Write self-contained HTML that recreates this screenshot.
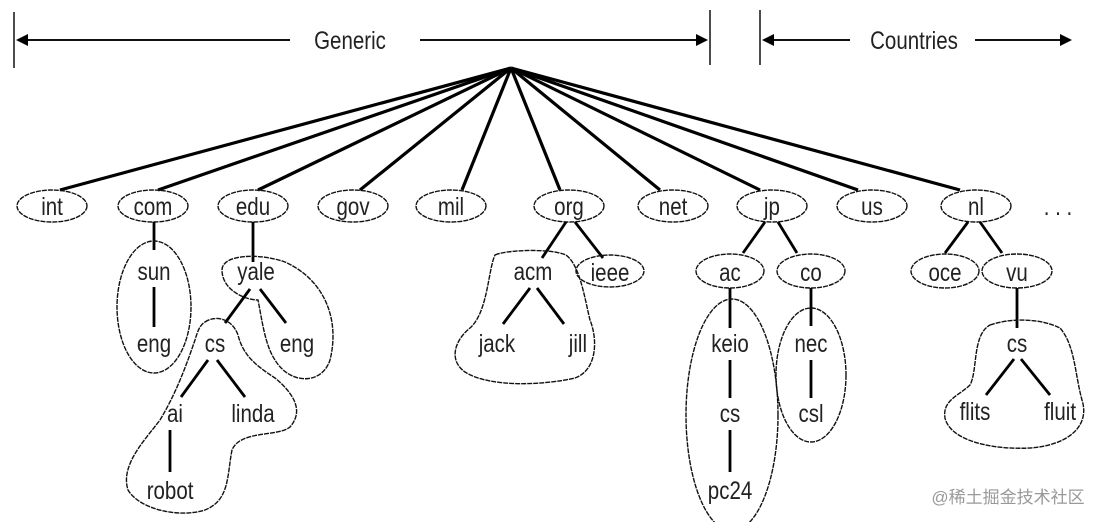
<!DOCTYPE html>
<html><head><meta charset="utf-8"><style>
html,body{margin:0;padding:0;background:#fff;}
svg{display:block}
text{font-family:"Liberation Sans",sans-serif;font-size:25px;fill:#222;text-anchor:middle;transform-box:fill-box;transform-origin:center;transform:scaleX(0.82);}
.e{fill:none;stroke:#111;stroke-width:1.4;stroke-dasharray:5 1}
.l{stroke:#000;stroke-width:3.2}
.t{stroke:#000;stroke-width:2.8}
</style></head><body>
<svg width="1104" height="522" viewBox="0 0 1104 522" xmlns="http://www.w3.org/2000/svg">
<g stroke="#111" stroke-width="1.5">
<line x1="14" y1="12" x2="14" y2="68"/>
<line x1="710" y1="10" x2="710" y2="65"/>
<line x1="760" y1="10" x2="760" y2="65"/>
<line x1="24" y1="40" x2="290" y2="40" stroke-width="2"/>
<line x1="420" y1="40" x2="700" y2="40" stroke-width="2"/>
<line x1="772" y1="40" x2="850" y2="40" stroke-width="2"/>
<line x1="975" y1="40" x2="1060" y2="40" stroke-width="2"/>
</g>
<polygon points="16,40 28,34 28,46" fill="#000"/>
<polygon points="708,40 696,34 696,46" fill="#000"/>
<polygon points="762,40 774,34 774,46" fill="#000"/>
<polygon points="1072,40 1060,34 1060,46" fill="#000"/>
<text x="350" y="49">Generic</text>
<text x="914" y="49">Countries</text>
<g class="l">
<line x1="511" y1="68" x2="60" y2="190"/>
<line x1="511" y1="68" x2="158" y2="190"/>
<line x1="511" y1="68" x2="258" y2="190"/>
<line x1="511" y1="68" x2="360" y2="190"/>
<line x1="511" y1="68" x2="462" y2="190"/>
<line x1="511" y1="68" x2="560" y2="190"/>
<line x1="511" y1="68" x2="660" y2="190"/>
<line x1="511" y1="68" x2="760" y2="190"/>
<line x1="511" y1="68" x2="858" y2="190"/>
<line x1="511" y1="68" x2="960" y2="190"/>
</g>
<g class="e">
<ellipse cx="52" cy="206" rx="35" ry="16"/>
<ellipse cx="153" cy="206" rx="35" ry="16"/>
<ellipse cx="253" cy="206" rx="35" ry="16"/>
<ellipse cx="353" cy="206" rx="35" ry="16"/>
<ellipse cx="451" cy="206" rx="35" ry="16"/>
<ellipse cx="569" cy="206" rx="35" ry="16"/>
<ellipse cx="673" cy="206" rx="35" ry="16"/>
<ellipse cx="772" cy="206" rx="35" ry="16"/>
<ellipse cx="872" cy="206" rx="35" ry="16"/>
<ellipse cx="976" cy="206" rx="35" ry="16"/>
</g>
<text x="52" y="215">int</text>
<text x="153" y="215">com</text>
<text x="253" y="215">edu</text>
<text x="353" y="215">gov</text>
<text x="451" y="215">mil</text>
<text x="569" y="215">org</text>
<text x="673" y="215">net</text>
<text x="772" y="215">jp</text>
<text x="872" y="215">us</text>
<text x="976" y="215">nl</text>
<text x="1058" y="215">. . .</text>
<line class="t" x1="154" y1="222" x2="154" y2="250"/>
<ellipse class="e" cx="154" cy="307" rx="37" ry="66"/>
<text x="154" y="280">sun</text>
<line class="t" x1="154" y1="287" x2="154" y2="327"/>
<text x="154" y="352">eng</text>
<line class="t" x1="253" y1="222" x2="253" y2="262"/>
<path class="e" d="M222,270 C222,254 260,253 285,262 C325,280 340,320 330,360 C322,385 290,385 275,360 C265,345 262,320 258,300 C245,300 222,290 222,270 Z"/>
<text x="256" y="280">yale</text>
<line class="t" x1="250" y1="289" x2="225" y2="323"/>
<line class="t" x1="260" y1="289" x2="286" y2="323"/>
<text x="297" y="352">eng</text>
<path class="e" d="M205,322 C215,315 232,318 238,335 C243,355 255,365 275,378 C292,392 305,410 290,427 C278,437 240,430 232,450 C227,475 230,500 205,510 C180,518 140,510 128,490 C120,465 145,440 160,420 C178,390 188,360 195,340 C198,330 200,325 205,322 Z"/>
<text x="215" y="352">cs</text>
<line class="t" x1="208" y1="360" x2="181" y2="397"/>
<line class="t" x1="217" y1="360" x2="245" y2="397"/>
<text x="175" y="422">ai</text>
<text x="253" y="422">linda</text>
<line class="t" x1="170" y1="430" x2="170" y2="472"/>
<text x="170" y="499">robot</text>
<line class="t" x1="566" y1="222" x2="542" y2="258"/>
<line class="t" x1="575" y1="222" x2="603" y2="258"/>
<ellipse class="e" cx="610" cy="271" rx="34" ry="16"/>
<text x="610" y="281">ieee</text>
<path class="e" d="M495,255 C505,250 550,248 566,255 C580,265 585,300 590,320 C598,340 597,370 575,378 C545,385 490,388 465,372 C448,360 455,340 470,328 C488,312 488,270 495,255 Z"/>
<text x="533" y="280">acm</text>
<line class="t" x1="530" y1="288" x2="503" y2="324"/>
<line class="t" x1="537" y1="288" x2="564" y2="324"/>
<text x="497" y="352">jack</text>
<text x="578" y="352">jill</text>
<line class="t" x1="765" y1="222" x2="743" y2="253"/>
<line class="t" x1="778" y1="222" x2="797" y2="253"/>
<ellipse class="e" cx="730" cy="271" rx="34" ry="17"/>
<ellipse class="e" cx="811" cy="271" rx="34" ry="17"/>
<text x="730" y="281">ac</text>
<text x="811" y="281">co</text>
<line class="t" x1="730" y1="288" x2="730" y2="328"/>
<ellipse class="e" cx="732" cy="415" rx="46" ry="116"/>
<text x="730" y="352">keio</text>
<line class="t" x1="730" y1="360" x2="730" y2="398"/>
<text x="730" y="422">cs</text>
<line class="t" x1="730" y1="430" x2="730" y2="472"/>
<text x="730" y="499">pc24</text>
<line class="t" x1="811" y1="288" x2="811" y2="326"/>
<ellipse class="e" cx="811" cy="375" rx="35" ry="67"/>
<text x="811" y="352">nec</text>
<line class="t" x1="811" y1="360" x2="811" y2="398"/>
<text x="811" y="422">csl</text>
<line class="t" x1="968" y1="222" x2="945" y2="253"/>
<line class="t" x1="980" y1="222" x2="1002" y2="253"/>
<ellipse class="e" cx="945" cy="271" rx="34" ry="17"/>
<ellipse class="e" cx="1017" cy="271" rx="35" ry="17"/>
<text x="945" y="281">oce</text>
<text x="1017" y="281">vu</text>
<line class="t" x1="1017" y1="288" x2="1017" y2="328"/>
<path class="e" d="M990,325 C1010,318 1040,318 1060,328 C1075,345 1075,375 1082,400 C1090,425 1070,445 1030,448 C990,450 950,440 945,418 C942,400 960,395 970,385 C978,370 972,335 990,325 Z"/>
<text x="1017" y="352">cs</text>
<line class="t" x1="1014" y1="359" x2="986" y2="395"/>
<line class="t" x1="1021" y1="359" x2="1050" y2="395"/>
<text x="975" y="420">flits</text>
<text x="1060" y="420">fluit</text>
<text x="1008" y="503" style="font-family:'Liberation Sans','Noto Sans CJK SC',sans-serif;font-size:17px;fill:#999;transform:none">@稀土掘金技术社区</text>
</svg>
</body></html>
